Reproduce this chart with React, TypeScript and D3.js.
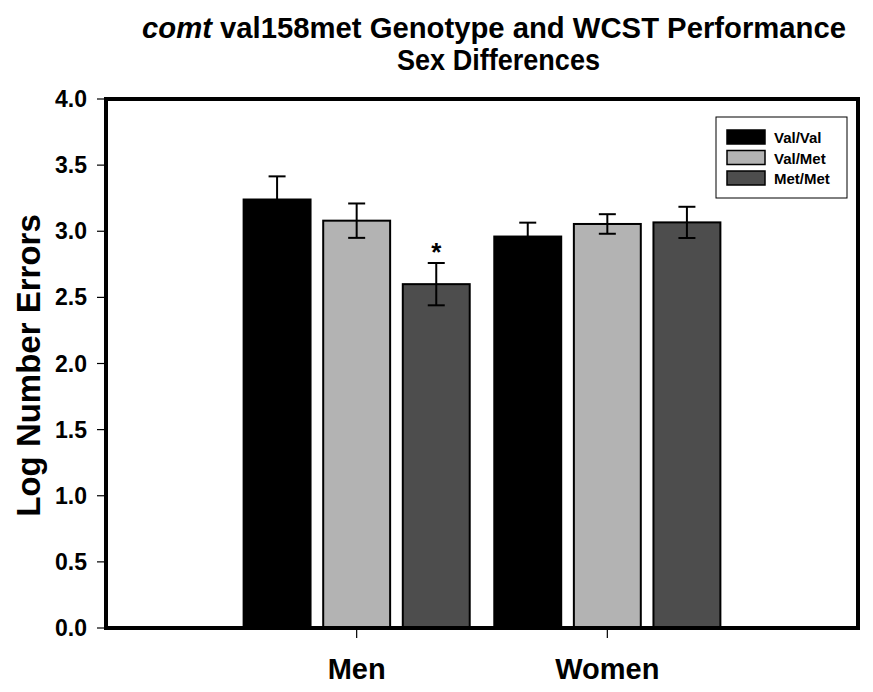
import React from "react";
import * as d3 from "d3";

const groups = ["Men", "Women"];
const genotypes = ["Val/Val", "Val/Met", "Met/Met"];
const colors = ["#000000", "#b3b3b3", "#4d4d4d"];
const menMeans = [3.24, 3.08, 2.6];
const menErr = [0.175, 0.13, 0.16];
const womenMeans = [2.96, 3.055, 3.067];
const womenErr = [0.105, 0.074, 0.118];
const yTicks = [0, 0.5, 1, 1.5, 2, 2.5, 3, 3.5, 4];
const significant = [[false, false, true], [false, false, false]];

const W = 873;
const H = 692;
const left = 106;
const right = 858;
const top = 99;
const bottom = 628;

export default function App() {
  const x = d3.scaleLinear().domain([0, 3]).range([left, right]);
  const y = d3.scaleLinear().domain([0, 4]).range([bottom, top]);
  const step = 0.3175;
  const bw = 0.267;
  const means = [menMeans, womenMeans];
  const errs = [menErr, womenErr];
  const font = "Liberation Sans, Arial, sans-serif";

  const bars: any[] = [];
  groups.forEach((g, gi) => {
    const c = gi + 1;
    genotypes.forEach((gt, k) => {
      const cx = c + (k - 1) * step;
      const x0 = x(cx - bw / 2);
      const x1 = x(cx + bw / 2);
      const m = means[gi][k];
      const e = errs[gi][k];
      const xc = x(cx);
      bars.push(
        <g key={g + gt}>
          <rect x={x0} y={y(m)} width={x1 - x0} height={y(0) - y(m)} fill={colors[k]} stroke="#000" strokeWidth={2} />
          <line x1={xc} x2={xc} y1={y(m - e)} y2={y(m + e)} stroke="#000" strokeWidth={2} />
          <line x1={xc - 8.5} x2={xc + 8.5} y1={y(m + e)} y2={y(m + e)} stroke="#000" strokeWidth={2} />
          <line x1={xc - 8.5} x2={xc + 8.5} y1={y(m - e)} y2={y(m - e)} stroke="#000" strokeWidth={2} />
          {significant[gi][k] && (
            <text x={xc} y={y(m + e) - 2} textAnchor="middle" fontFamily={font} fontWeight="bold" fontSize={26}>*</text>
          )}
        </g>
      );
    });
  });

  return (
    <svg width={W} height={H} style={{ position: "absolute", left: 0, top: 0, background: "#fff" }}>
      <rect x={0} y={0} width={W} height={H} fill="#fff" />
      <text x={142} y={38} textLength={704} lengthAdjust="spacingAndGlyphs" fontFamily={font} fontWeight="bold" fontSize={29}>
        <tspan fontStyle="italic">comt</tspan> val158met Genotype and WCST Performance
      </text>
      <text x={397} y={70} textLength={203} lengthAdjust="spacingAndGlyphs" fontFamily={font} fontWeight="bold" fontSize={29}>
        Sex Differences
      </text>
      {bars}
      {yTicks.map((t) => (
        <g key={t}>
          <line x1={left - 9} x2={left} y1={y(t)} y2={y(t)} stroke="#000" strokeWidth={1.2} />
          <text x={87} y={y(t) + 8} textAnchor="end" fontFamily={font} fontWeight="bold" fontSize={23}>
            {t.toFixed(1)}
          </text>
        </g>
      ))}
      {groups.map((g, gi) => (
        <g key={g}>
          <line x1={x(gi + 1)} x2={x(gi + 1)} y1={bottom} y2={bottom + 10} stroke="#000" strokeWidth={1.2} />
          <text x={x(gi + 1)} y={679} textAnchor="middle" fontFamily={font} fontWeight="bold" fontSize={29}>
            {g}
          </text>
        </g>
      ))}
      <rect x={left} y={top} width={right - left} height={bottom - top} fill="none" stroke="#000" strokeWidth={4} />
      <text transform={`translate(40,${(top + bottom) / 2 + 2}) rotate(-90)`} textAnchor="middle" fontFamily={font} fontWeight="bold" fontSize={33}>
        Log Number Errors
      </text>
      <g>
        <rect x={716} y={117} width={131} height={81} fill="#fff" stroke="#000" strokeWidth={1} />
        {genotypes.map((gt, k) => (
          <g key={gt}>
            <rect x={727} y={130 + k * 20.5} width={38} height={14} fill={colors[k]} stroke="#000" strokeWidth={1.5} />
            <text x={774} y={143 + k * 20.5} fontFamily={font} fontWeight="bold" fontSize={15}>
              {gt}
            </text>
          </g>
        ))}
      </g>
    </svg>
  );
}
